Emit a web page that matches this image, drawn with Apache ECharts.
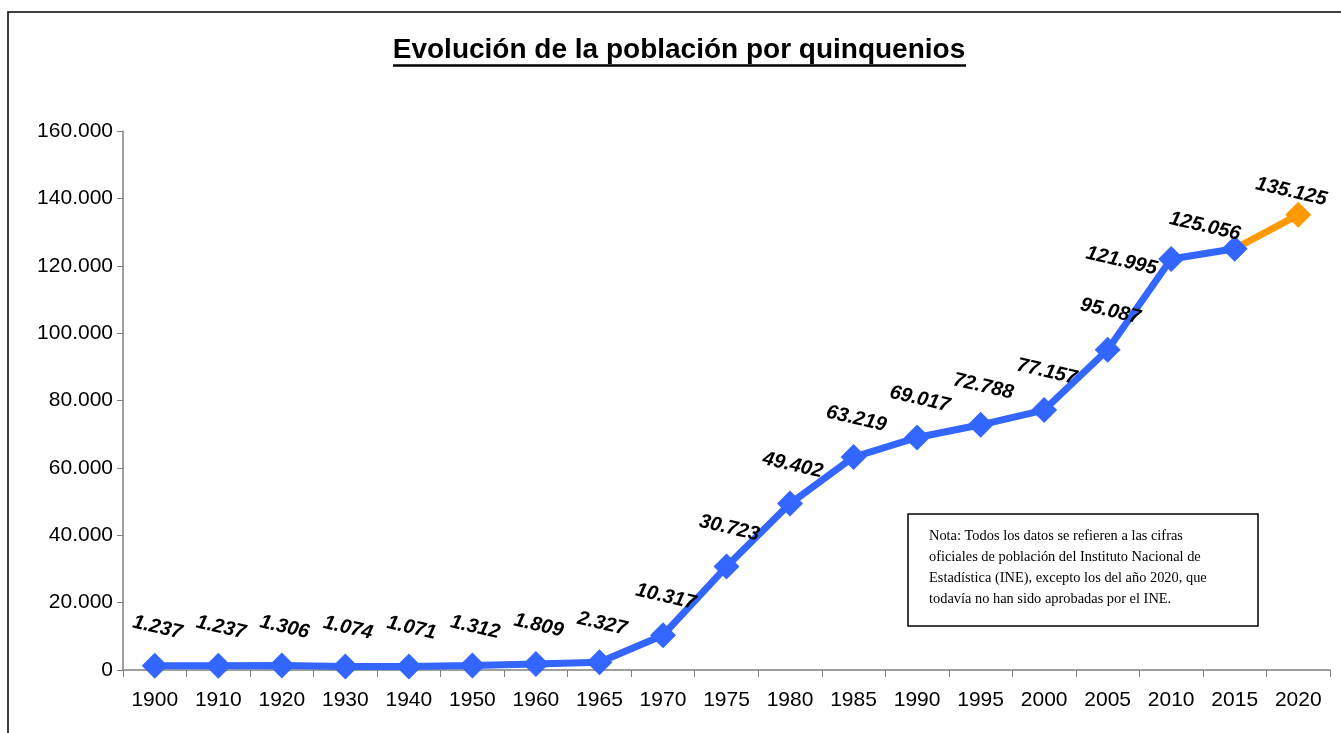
<!DOCTYPE html>
<html>
<head>
<meta charset="utf-8">
<script src="https://cdn.jsdelivr.net/npm/echarts@6/dist/echarts.min.js"></script>
<style>
  html, body { margin: 0; padding: 0; background: #fff; }
  #chart { width: 1341px; height: 733px; }
</style>
</head>
<body>
<div id="chart"></div>
<script>
const FONT = 'Liberation Sans, Arial, sans-serif'

const years = ['1900', '1910', '1920', '1930', '1940', '1950', '1960', '1965', '1970', '1975',
  '1980', '1985', '1990', '1995', '2000', '2005', '2010', '2015', '2020']
const population = [1237, 1237, 1306, 1074, 1071, 1312, 1809, 2327, 10317, 30723,
  49402, 63219, 69017, 72788, 77157, 95087, 121995, 125056, 135125]
const officialCount = 18 // hasta 2015 son cifras oficiales del INE
const yTicks = { min: 0, max: 160000, interval: 20000 }
const note = [
  'Nota: Todos los datos se refieren a las cifras',
  'oficiales de población del Instituto Nacional de',
  'Estadística (INE), excepto los del año 2020, que',
  'todavía no han sido aprobadas por el INE.',
]

// separador de miles con punto
const fmt = (v) => String(v).replace(/\B(?=(\d{3})+(?!\d))/g, '.')

// desplazamiento de etiquetas que no van justo encima
const labelShift = { 16: [-48, 13], 17: [-34, -15], 18: [-12, -21] }
const labelFor = (i) => ({
  show: true,
  position: 'inside',
  offset: labelShift[i] || [-6, -38],
  rotate: -13,
  color: '#000',
  fontFamily: FONT,
  fontSize: 20,
  fontWeight: 'bold',
  fontStyle: 'italic',
  formatter: (p) => fmt(p.value),
})

const blueData = population.map((v, i) =>
  i < officialCount ? { value: v, label: labelFor(i) } : null)
const orangeData = population.map((v, i) => {
  if (i < officialCount - 1) return null
  if (i === officialCount - 1) return { value: v, symbol: 'none', label: { show: false } }
  return { value: v, label: labelFor(i) }
})

const myChart = echarts.init(document.getElementById('chart'))
myChart.setOption({
  animation: false,
  grid: { left: 123, right: 11, top: 131, bottom: 63 },
  xAxis: {
    type: 'category',
    data: years,
    boundaryGap: true,
    axisLine: { lineStyle: { color: '#808080', width: 1.5 } },
    axisTick: { show: true, length: 7, lineStyle: { color: '#808080' } },
    axisLabel: { color: '#000', fontFamily: FONT, fontSize: 21, margin: 20 },
  },
  yAxis: {
    type: 'value',
    min: yTicks.min,
    max: yTicks.max,
    interval: yTicks.interval,
    axisLine: { show: true, lineStyle: { color: '#808080', width: 1.5 } },
    axisTick: { show: true, length: 6, lineStyle: { color: '#808080' } },
    splitLine: { show: false },
    axisLabel: { color: '#000', fontFamily: FONT, fontSize: 21, margin: 10, formatter: fmt },
  },
  series: [
    {
      type: 'line',
      data: orangeData,
      z: 2,
      symbol: 'diamond',
      symbolSize: 26,
      lineStyle: { color: '#FF9900', width: 7 },
      itemStyle: { color: '#FF9900' },
    },
    {
      type: 'line',
      data: blueData,
      z: 3,
      symbol: 'diamond',
      symbolSize: 26,
      lineStyle: { color: '#3366FF', width: 7 },
      itemStyle: { color: '#3366FF' },
    },
  ],
  graphic: [
    {
      type: 'rect',
      shape: { x: 8, y: 12, width: 1340, height: 730 },
      style: { fill: 'none', stroke: '#000', lineWidth: 1.5 },
      silent: true,
    },
    {
      type: 'text',
      x: 679,
      y: 50,
      style: {
        text: 'Evolución de la población por quinquenios',
        fill: '#000',
        font: 'bold 28px ' + FONT,
        align: 'center',
        verticalAlign: 'middle',
      },
    },
    {
      type: 'line',
      shape: { x1: 393, y1: 65.5, x2: 966, y2: 65.5 },
      style: { stroke: '#000', lineWidth: 2.5 },
    },
    {
      type: 'rect',
      shape: { x: 908, y: 514, width: 350, height: 112 },
      style: { fill: '#fff', stroke: '#000', lineWidth: 1.5 },
    },
    {
      type: 'text',
      x: 929,
      y: 526,
      style: {
        text: note.join('\n'),
        fill: '#000',
        font: '14.4px Liberation Serif, Times New Roman, serif',
        lineHeight: 21,
        align: 'left',
        verticalAlign: 'top',
      },
    },
  ],
})
</script>
</body>
</html>
